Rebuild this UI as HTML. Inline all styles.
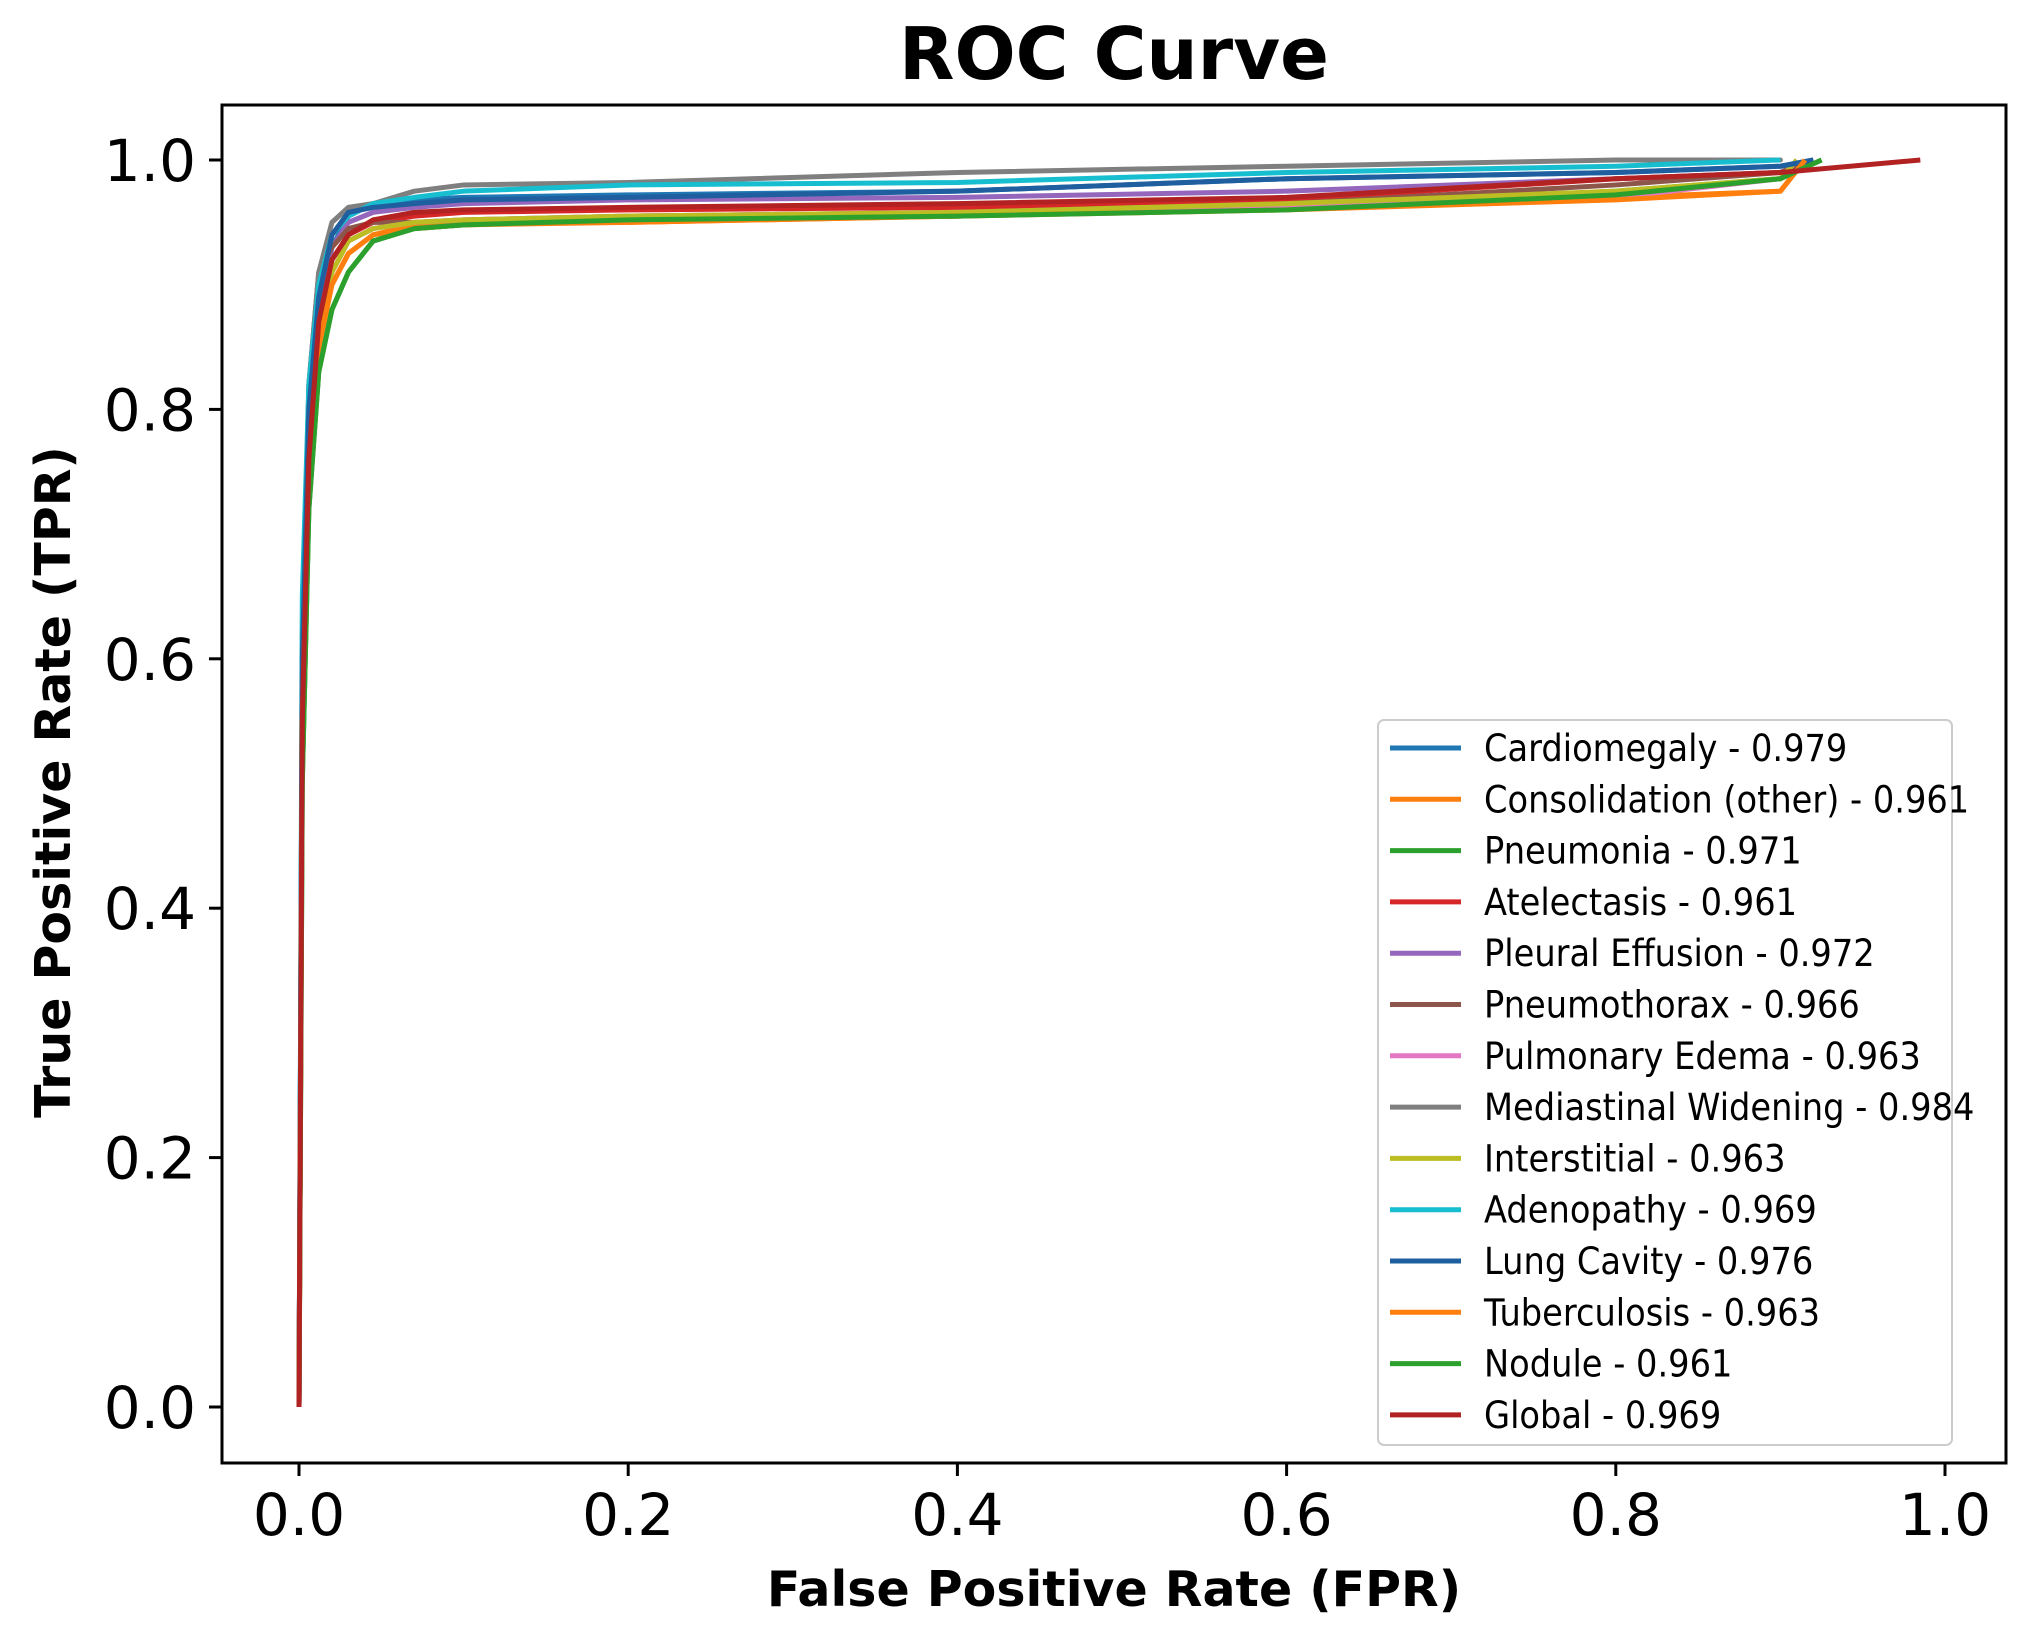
<!DOCTYPE html>
<html><head><meta charset="utf-8"><style>
html,body{margin:0;padding:0;background:#fff;}
svg{display:block;}
text{font-family:"DejaVu Sans","Liberation Sans",sans-serif;}
</style></head><body>
<svg id="chart" width="2027" height="1642" viewBox="0 0 2027 1642">
<text x="1114" y="79" text-anchor="middle" font-size="72" font-weight="bold">ROC Curve</text>
<g id="plot"></g>
<rect x="222" y="105" width="1784" height="1358" fill="none" stroke="#000" stroke-width="3"/>
<g id="ticks"></g>
<text x="1114" y="1606" text-anchor="middle" font-size="49" font-weight="bold">False Positive Rate (FPR)</text>
<text transform="translate(70,782) rotate(-90)" text-anchor="middle" font-size="49" font-weight="bold">True Positive Rate (TPR)</text>
<g id="legend"></g>
</svg>
<script>
const seriesNames=["Cardiomegaly - 0.979","Consolidation (other) - 0.961","Pneumonia - 0.971","Atelectasis - 0.961","Pleural Effusion - 0.972","Pneumothorax - 0.966","Pulmonary Edema - 0.963","Mediastinal Widening - 0.984","Interstitial - 0.963","Adenopathy - 0.969","Lung Cavity - 0.976","Tuberculosis - 0.963","Nodule - 0.961","Global - 0.969"];
const seriesColors=["#1f77b4","#ff7f0e","#2ca02c","#d62728","#9467bd","#8c564b","#e377c2","#7f7f7f","#bcbd22","#17becf","#1f5f9f","#ff7f0e","#2ca02c","#b22222"];
const fprGrid=[0,0.002,0.006,0.012,0.02,0.03,0.045,0.07,0.1,0.2,0.4,0.6,0.8,0.9];
const tprCardiomegaly=[0,0.6,0.78,0.88,0.93,0.955,0.965,0.968,0.97,0.972,0.975,0.985,0.99,0.995];
const tprConsolidation=[0,0.55,0.75,0.85,0.9,0.925,0.94,0.948,0.95,0.95,0.955,0.962,0.97,0.975];
const tprPneumonia=[0,0.5,0.72,0.83,0.88,0.91,0.935,0.945,0.948,0.952,0.955,0.962,0.975,0.985];
const tprAtelectasis=[0,0.55,0.76,0.87,0.92,0.94,0.95,0.955,0.958,0.96,0.962,0.968,0.985,0.99];
const tprPleural=[0,0.58,0.78,0.88,0.93,0.95,0.958,0.962,0.965,0.968,0.97,0.975,0.985,0.99];
const tprPneumothorax=[0,0.6,0.82,0.91,0.93,0.945,0.95,0.95,0.952,0.955,0.958,0.965,0.98,0.99];
const tprEdema=[0,0.55,0.76,0.86,0.91,0.935,0.945,0.95,0.952,0.955,0.958,0.962,0.97,0.985];
const tprMediastinal=[0,0.62,0.82,0.91,0.95,0.962,0.965,0.975,0.98,0.982,0.99,0.995,1,1];
const tprInterstitial=[0,0.55,0.76,0.86,0.91,0.935,0.945,0.95,0.952,0.955,0.958,0.965,0.975,0.985];
const tprAdenopathy=[0,0.65,0.82,0.9,0.94,0.955,0.965,0.97,0.975,0.98,0.982,0.99,0.995,1];
const tprLungCavity=[0,0.6,0.8,0.89,0.94,0.958,0.962,0.965,0.968,0.97,0.975,0.985,0.99,0.995];
const tprTuberculosis=[0,0.55,0.75,0.85,0.9,0.925,0.94,0.945,0.948,0.95,0.955,0.96,0.968,0.975];
const tprNodule=[0,0.5,0.72,0.83,0.88,0.91,0.935,0.945,0.948,0.952,0.955,0.96,0.972,0.985];
const tprGlobal=[0,0.55,0.76,0.87,0.92,0.94,0.952,0.958,0.96,0.962,0.965,0.97,0.985,0.99];
const endFpr=[0.92,0.915,0.925,0.92,0.92,0.92,0.91,0.85,0.91,0.9,0.92,0.915,0.925,0.985];
const tickValues=[0,0.2,0.4,0.6,0.8,1.0];
const tickLabels=["0.0","0.2","0.4","0.6","0.8","1.0"];
const allTpr=[tprCardiomegaly,tprConsolidation,tprPneumonia,tprAtelectasis,tprPleural,tprPneumothorax,tprEdema,tprMediastinal,tprInterstitial,tprAdenopathy,tprLungCavity,tprTuberculosis,tprNodule,tprGlobal];
const NS="http://www.w3.org/2000/svg";
function xs(v){return 299+v*(1945-299);}
function ys(v){return 1407-v*(1407-160);}
const plot=document.getElementById('plot');
allTpr.forEach((t,i)=>{
  const pts=fprGrid.map((f,j)=>xs(f)+','+ys(t[j]));
  pts.push(xs(endFpr[i])+','+ys(1));
  const pl=document.createElementNS(NS,'polyline');
  pl.setAttribute('points',pts.join(' '));
  pl.setAttribute('fill','none');
  pl.setAttribute('stroke',seriesColors[i]);
  pl.setAttribute('stroke-width','5');
  pl.setAttribute('stroke-linejoin','round');
  
  
  plot.appendChild(pl);
});
const ticks=document.getElementById('ticks');
tickValues.forEach((v,i)=>{
  const lx=document.createElementNS(NS,'line');
  lx.setAttribute('x1',xs(v));lx.setAttribute('x2',xs(v));lx.setAttribute('y1',1463);lx.setAttribute('y2',1476);
  lx.setAttribute('stroke','#000');lx.setAttribute('stroke-width','3');
  
  
  ticks.appendChild(lx);
  const tx=document.createElementNS(NS,'text');
  tx.setAttribute('x',xs(v));tx.setAttribute('y',1535);tx.setAttribute('text-anchor','middle');tx.setAttribute('font-size','58');
  tx.textContent=tickLabels[i];
  
  
  ticks.appendChild(tx);
  const ly=document.createElementNS(NS,'line');
  ly.setAttribute('x1',209);ly.setAttribute('x2',222);ly.setAttribute('y1',ys(v));ly.setAttribute('y2',ys(v));
  ly.setAttribute('stroke','#000');ly.setAttribute('stroke-width','3');
  
  
  ticks.appendChild(ly);
  const ty=document.createElementNS(NS,'text');
  ty.setAttribute('x',196);ty.setAttribute('y',ys(v)+21);ty.setAttribute('text-anchor','end');ty.setAttribute('font-size','58');
  ty.textContent=tickLabels[i];
  
  
  ticks.appendChild(ty);
});
const lg=document.getElementById('legend');
const box=document.createElementNS(NS,'rect');
box.setAttribute('x',1378);box.setAttribute('y',720);box.setAttribute('width',574);box.setAttribute('height',725);
box.setAttribute('rx',6);box.setAttribute('fill','#fff');box.setAttribute('fill-opacity','0.85');box.setAttribute('stroke','#ccc');box.setAttribute('stroke-width','2');


lg.appendChild(box);
seriesNames.forEach((n,i)=>{
  const y=748+i*51.3;
  const l=document.createElementNS(NS,'line');
  l.setAttribute('x1',1390);l.setAttribute('x2',1461);l.setAttribute('y1',y);l.setAttribute('y2',y);
  l.setAttribute('stroke',seriesColors[i]);l.setAttribute('stroke-width','5');
  
  
  lg.appendChild(l);
  const t=document.createElementNS(NS,'text');
  t.setAttribute('transform','translate(1484,'+(y+13)+') scale(0.91,1)');
  t.setAttribute('font-size','37');
  t.textContent=n;
  
  
  lg.appendChild(t);
});
</script>
</body></html>
